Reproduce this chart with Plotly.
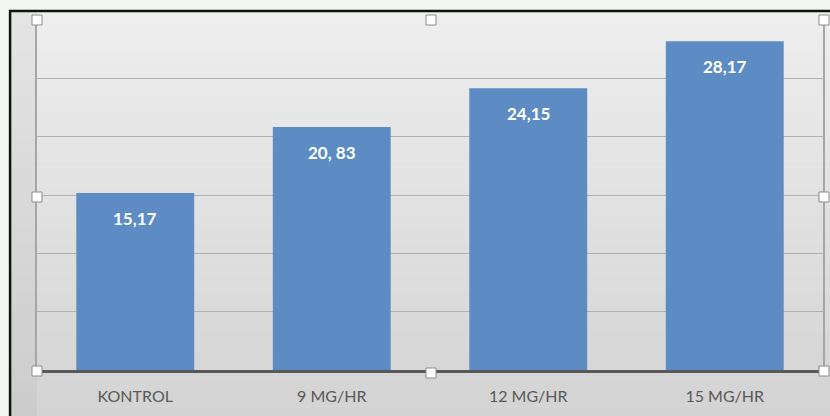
import plotly.graph_objects as go

categories = ["KONTROL", "9 MG/HR", "12 MG/HR", "15 MG/HR"]
values = [15.17, 20.83, 24.15, 28.17]
value_labels = ["15,17", "20, 83", "24,15", "28,17"]

W, H = 830, 416
L, R, T, B = 37, 5, 20, 46
PW, PH = W - L - R, H - T - B


def px(x):
    return (x - L) / PW


def py(y):
    return (H - B - y) / PH


fig = go.Figure()
fig.add_trace(go.Bar(
    x=categories, y=values, width=0.6,
    marker=dict(color="#5d8cc5", line=dict(width=0)),
    hoverinfo="skip",
))

shapes = []
# chart frame background gradient (decoration)
n = 60
top_c = (238, 238, 238)
bot_c = (211, 211, 211)
y_top, y_bot = 10, 420
for i in range(n):
    f = i / (n - 1)
    c = tuple(int(round(top_c[k] + (bot_c[k] - top_c[k]) * f)) for k in range(3))
    y0 = y_top + (y_bot - y_top) * i / n
    y1 = y_top + (y_bot - y_top) * (i + 1) / n
    shapes.append(dict(type="rect", xref="paper", yref="paper",
                       x0=px(9), x1=px(835), y0=py(y1 + 0.5), y1=py(y0),
                       fillcolor="rgb(%d,%d,%d)" % c, line=dict(width=0), layer="below"))
# left darker vignette
shapes.append(dict(type="rect", xref="paper", yref="paper", x0=px(10), x1=px(37),
                   y0=py(420), y1=py(10), fillcolor="rgba(150,150,150,0.10)",
                   line=dict(width=0), layer="below"))
# black frame
shapes.append(dict(type="rect", xref="paper", yref="paper", x0=px(10), x1=px(840),
                   y0=py(430), y1=py(11), line=dict(color="#111111", width=2.5),
                   fillcolor="rgba(0,0,0,0)", layer="above"))
# selection handles
for hx, hy in [(37, 20), (432, 20), (826, 20), (37, 197), (826, 197),
               (37, 371), (432, 373), (826, 371)]:
    shapes.append(dict(type="rect", xref="paper", yref="paper",
                       x0=px(hx - 5), x1=px(hx + 5), y0=py(hy + 5), y1=py(hy - 5),
                       fillcolor="white", line=dict(color="#8c8c8c", width=1), layer="above"))

annotations = []
for c, v, t in zip(categories, values, value_labels):
    annotations.append(dict(x=c, y=v, text="<b>%s</b>" % t, showarrow=False,
                            yanchor="top", yshift=-13,
                            font=dict(family="Lato, Open Sans, sans-serif", size=17, color="white")))

fig.update_layout(
    width=W, height=H,
    margin=dict(l=L, r=R, t=T, b=B, pad=0),
    paper_bgcolor="#f3f6f3",
    plot_bgcolor="rgba(0,0,0,0)",
    showlegend=False,
    bargap=0.4,
    shapes=shapes,
    annotations=annotations,
    xaxis=dict(
        showgrid=False, showline=True, linecolor="#595959", linewidth=3,
        ticks="", ticklabelstandoff=10,
        tickfont=dict(family="Lato, Open Sans, sans-serif", size=16, color="#595959"),
        mirror=False,
    ),
    yaxis=dict(
        range=[0, 30], dtick=5, showticklabels=False,
        showgrid=True, gridcolor="#b0b0b0", gridwidth=1,
        zeroline=False, showline=True, linecolor="#a6a6a6", linewidth=1.5, mirror=True,
    ),
)

fig.write_html("out.html",
               config={"displayModeBar": False},
               post_script="document.body.style.margin='0';document.body.style.overflow='hidden';")
